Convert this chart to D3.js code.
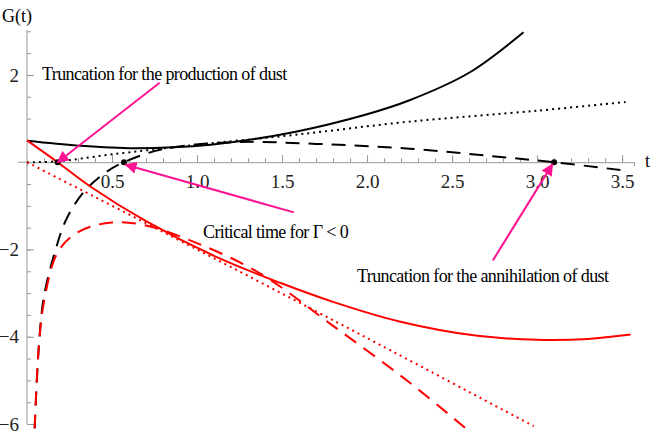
<!DOCTYPE html>
<html><head><meta charset="utf-8">
<script src="https://cdn.jsdelivr.net/npm/d3@7"></script>
<style>body{margin:0;background:#fff}svg text{font-family:"Liberation Serif","DejaVu Serif",serif !important}</style>
</head><body><svg id="c" width="654" height="436"></svg>
<script>
const xTicks=[0.5,1.0,1.5,2.0,2.5,3.0,3.5];
const yTicks=[-6,-4,-2,2];
const blackSolid=[[0,0.49],[0.3,0.38],[0.63,0.32],[1.08,0.4],[1.58,0.7],[2.0,1.1],[2.25,1.42],[2.6,2.05],[2.92,2.98]];
const blackDotted=[[0,0],[0.18,0.02],[0.5,0.18],[1.0,0.4],[1.58,0.63],[2.25,0.93],[3.0,1.18],[3.52,1.38]];
const blackDashed=[[0.045,-6.1],[0.07,-4.2],[0.1,-3.07],[0.17,-1.98],[0.23,-1.32],[0.33,-0.7],[0.45,-0.27],[0.57,0],[0.8,0.3],[1.23,0.46],[1.7,0.42],[2.25,0.31],[2.73,0.14],[3.1,0],[3.49,-0.18]];
const redSolid=[[0,0.5],[0.18,0],[0.37,-0.55],[0.7,-1.35],[1.13,-2.2],[1.5,-2.78],[1.8,-3.2],[2.19,-3.65],[2.65,-3.98],[3.0,-4.07],[3.3,-4.05],[3.55,-3.95]];
const redDotted=[[0,0],[1.0,-2.0],[2.0,-4.03],[2.98,-6.05]];
const redDashed=[[0.045,-6.1],[0.07,-4.2],[0.1,-3.2],[0.18,-2.07],[0.3,-1.6],[0.5,-1.38],[0.7,-1.45],[0.9,-1.7],[1.35,-2.5],[1.8,-3.75],[2.25,-5.05],[2.58,-6.1]];
const marks=[0.18,0.57,3.1];
const notes=[
 {text:"Truncation for the production of dust",tx:42,ty:80,from:[0.78,1.82],to:[0.18,0]},
 {text:"Critical time for Γ < 0",tx:203,ty:238,from:[1.57,-1.15],to:[0.58,-0.06]},
 {text:"Truncation for the annihilation of dust",tx:357,ty:282,from:[2.74,-2.25],to:[3.09,-0.05]}];

const svg=d3.select("#c");
const x=d3.scaleLinear().domain([0,3.57]).range([27,634]);
const y=d3.scaleLinear().domain([-6,3.03]).range([424,30]);
const gray="#999";
const FF='"Liberation Serif","DejaVu Serif",serif';
const ax=svg.append("g").attr("transform",`translate(0,${y(0)})`).call(d3.axisBottom(x).tickValues(d3.range(0.1,3.56,0.1)).tickSize(4).tickFormat(""));
ax.select(".domain").attr("stroke",gray);ax.selectAll("line").attr("stroke",gray).attr("transform","translate(0,-4)");
const ax2=svg.append("g").attr("transform",`translate(0,${y(0)})`).call(d3.axisBottom(x).tickValues(xTicks).tickSize(7).tickFormat(d3.format(".1f")));
ax2.select(".domain").remove();ax2.selectAll("line").attr("stroke",gray).attr("transform","translate(0,-7)");
ax2.selectAll("text").attr("font-size",19).attr("fill","#222").attr("dy","0.85em");
const ay=svg.append("g").attr("transform",`translate(${x(0)},0)`).call(d3.axisLeft(y).tickValues(d3.range(-6,3.01,0.5)).tickSize(4).tickFormat(""));
ay.select(".domain").attr("stroke",gray).attr("d",`M0,${y(-6)}V${y(3.03)}`);ay.selectAll("line").attr("stroke",gray).attr("transform","translate(4,0)");
const ay2=svg.append("g").attr("transform",`translate(${x(0)},0)`).call(d3.axisLeft(y).tickValues(yTicks).tickSize(7).tickFormat(d=>d<0?"−"+(-d):d));
ay2.select(".domain").remove();ay2.selectAll("line").attr("stroke",gray).attr("transform","translate(7,0)");
ay2.selectAll("text").attr("font-size",19).attr("fill","#222").attr("x",-8);
svg.selectAll("g").attr("font-family",FF);
svg.append("line").attr("x1",18).attr("x2",27).attr("y1",y(0)).attr("y2",y(0)).attr("stroke",gray);
svg.append("text").attr("x",2).attr("y",22).attr("font-size",18).attr("font-family",FF).text("G(t)");
svg.append("text").attr("x",645).attr("y",167).attr("font-size",18).attr("font-family",FF).text("t");
const line=d3.line().x(d=>x(d[0])).y(d=>y(d[1])).curve(d3.curveCatmullRom);
const curves=[[blackSolid,"#000",null],[blackDotted,"#000","2,4"],[blackDashed,"#000","14,9"],
 [redSolid,"red",null],[redDotted,"red","2,4"],[redDashed,"red","14,9"]];
curves.forEach(c=>svg.append("path").attr("d",line(c[0])).attr("fill","none").attr("stroke",c[1]).attr("stroke-width",2).attr("stroke-dasharray",c[2]));
svg.selectAll(".m").data(marks).join("circle").attr("cx",d=>x(d)).attr("cy",y(0)).attr("r",3).attr("fill","#000");
const pink="#ff1493";
svg.append("defs").append("marker").attr("id","ah").attr("viewBox","0 0 10 10").attr("refX",9).attr("refY",5)
 .attr("markerWidth",6).attr("markerHeight",6).attr("orient","auto").append("path").attr("d","M0,0L10,5L0,10Z").attr("fill",pink);
notes.forEach(n=>{
 svg.append("line").attr("x1",x(n.from[0])).attr("y1",y(n.from[1])).attr("x2",x(n.to[0])).attr("y2",y(n.to[1]))
  .attr("stroke",pink).attr("stroke-width",2).attr("marker-end","url(#ah)");
 svg.append("text").attr("x",n.tx).attr("y",n.ty).attr("font-size",18).attr("font-family",FF).attr("letter-spacing","-0.6").text(n.text);
});
</script></body></html>
